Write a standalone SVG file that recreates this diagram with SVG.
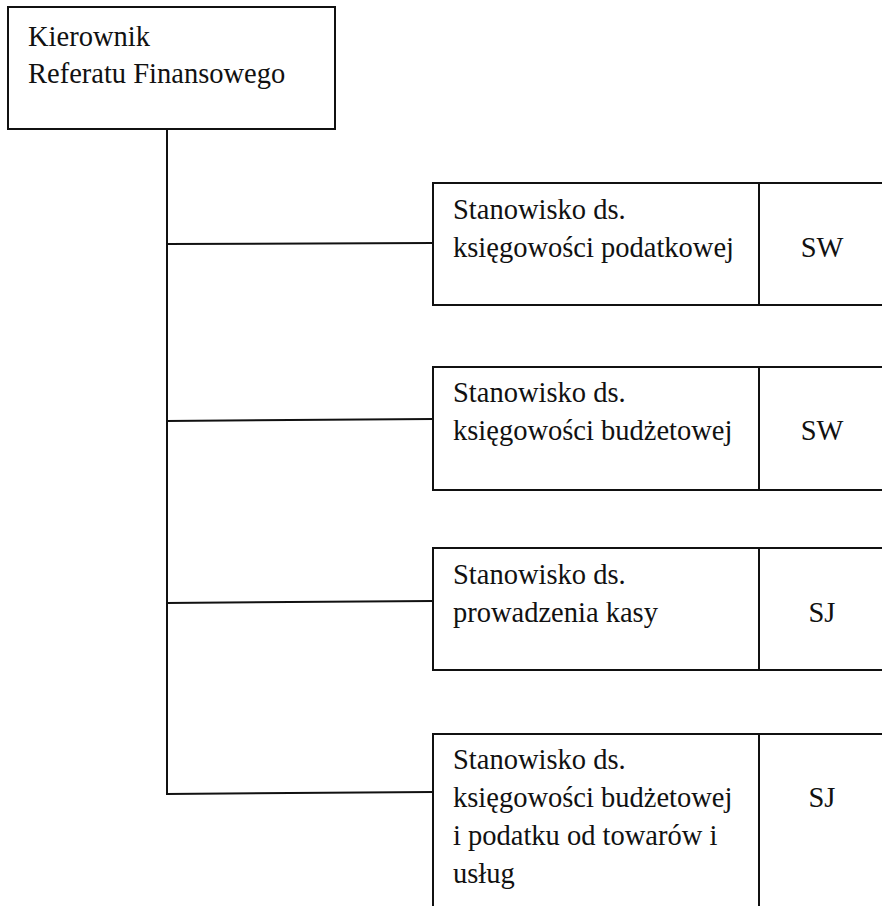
<svg xmlns="http://www.w3.org/2000/svg" width="882" height="906" viewBox="0 0 882 906">
<style>
.box{fill:#fff;stroke:#111;stroke-width:2}
.ln{stroke:#111;stroke-width:2;fill:none}
.t{font-family:'Liberation Serif','Times New Roman','DejaVu Serif',serif;font-size:28.5px;fill:#111}
</style>
<rect width="882" height="906" fill="#fff"/>
<g id="connectors">
<line class="ln" x1="167" y1="129" x2="167" y2="794"/>
<line class="ln" x1="166" y1="244" x2="433" y2="243"/>
<line class="ln" x1="166" y1="421" x2="433" y2="419"/>
<line class="ln" x1="166" y1="603" x2="433" y2="601"/>
<line class="ln" x1="166" y1="794" x2="433" y2="792"/>
</g>
<g id="kierownik" class="t">
<rect class="box" x="8" y="7" width="327" height="122"/>
<text x="28" y="46">Kierownik</text>
<text x="28" y="83">Referatu Finansowego</text>
</g>
<g id="ksiegowosc-podatkowa" class="t">
<rect class="box" x="433" y="183" width="326" height="122"/>
<path class="ln" d="M759 183H884M759 305H884"/>
<text x="453" y="219">Stanowisko ds.</text>
<text x="453" y="257">księgowości podatkowej</text>
<text x="822" y="257" text-anchor="middle">SW</text>
</g>
<g id="ksiegowosc-budzetowa" class="t">
<rect class="box" x="433" y="367" width="326" height="123"/>
<path class="ln" d="M759 367H884M759 490H884"/>
<text x="453" y="402">Stanowisko ds.</text>
<text x="453" y="440">księgowości budżetowej</text>
<text x="822" y="440" text-anchor="middle">SW</text>
</g>
<g id="kasa" class="t">
<rect class="box" x="433" y="548" width="326" height="122"/>
<path class="ln" d="M759 548H884M759 670H884"/>
<text x="453" y="584">Stanowisko ds.</text>
<text x="453" y="622">prowadzenia kasy</text>
<text x="822" y="622" text-anchor="middle">SJ</text>
</g>
<g id="ksiegowosc-vat" class="t">
<path class="ln" d="M433 910V734H884M759 734V910"/>
<text x="453" y="769">Stanowisko ds.</text>
<text x="453" y="807">księgowości budżetowej</text>
<text x="453" y="845">i podatku od towarów i</text>
<text x="453" y="883">usług</text>
<text x="822" y="807" text-anchor="middle">SJ</text>
</g>
</svg>
